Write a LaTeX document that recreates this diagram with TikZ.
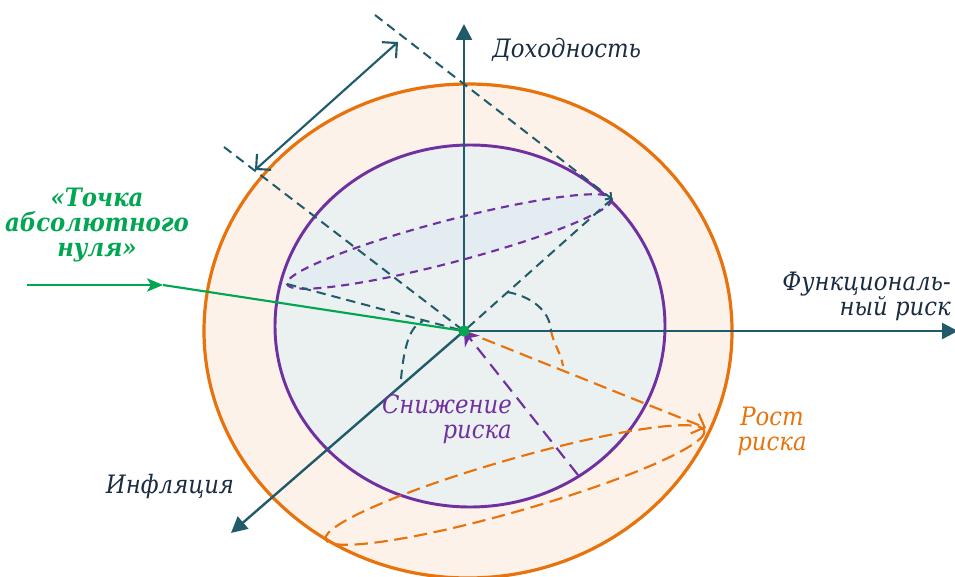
\documentclass[tikz,border=0pt]{standalone}
\usepackage{fontspec}
\setmainfont{DejaVu Serif Condensed}
\usepackage{xcolor}
\usetikzlibrary{arrows.meta}

\definecolor{axisteal}{HTML}{215A6A}
\definecolor{riskorange}{HTML}{E8720C}
\definecolor{riskpurple}{HTML}{7030A0}
\definecolor{zerogreen}{HTML}{00A651}
\definecolor{labelnavy}{HTML}{1A2B42}
\definecolor{outerfill}{HTML}{FDF2EA}
\definecolor{innerfill}{HTML}{EBF0F0}
\definecolor{planefill}{HTML}{E2ECF1}

\begin{document}
\begin{tikzpicture}[x=0.75pt, y=-0.75pt,
  axis/.style={draw=axisteal, line width=1.8pt, -{Triangle[length=12pt, width=12pt]}},
  guide/.style={draw=axisteal, line width=1.5pt, dash pattern=on 7pt off 4.5pt},
  planedash/.style={draw=riskpurple, line width=1.6pt, dash pattern=on 6pt off 4.5pt},
  orangedash/.style={draw=riskorange, line width=1.6pt, dash pattern=on 10pt off 5pt},
  openarrow/.style={-{Straight Barb[length=8pt, width=16pt]}},
  axislabel/.style={font=\itshape\fontsize{19}{18.75}\selectfont, text=labelnavy, inner sep=0pt, align=center},
  ]
  \useasboundingbox (0,0) rectangle (955,577);

  % points
  \coordinate (origin) at (464,331);
  \coordinate (ytip) at (464,24);
  \coordinate (xtip) at (958,331);
  \coordinate (ztip) at (231,533);
  \coordinate (greenstart) at (27,285);
  \coordinate (greenmid) at (163,285);
  \coordinate (planeleft) at (287,284);
  \coordinate (planeright) at (612,199);
  \coordinate (planecentre) at (449.5,241.5);
  \coordinate (guidetop) at (375,15);
  \coordinate (guideleft) at (224,147);
  \coordinate (spanlow) at (255,170);
  \coordinate (spanhigh) at (398,42);
  \coordinate (upend) at (706,428);
  \coordinate (downend) at (578,475);
  \coordinate (ringcentre) at (515,485);

  % spheres
  \path[draw=riskorange, fill=outerfill, line width=2.4pt] (468,331) ellipse [x radius=264, y radius=247];
  \path[draw=riskpurple, fill=innerfill, line width=2.2pt] (470,326) ellipse [x radius=195, y radius=181];

  % dashed ellipses
  \path[planedash, fill=planefill, rotate around={14.7:(planecentre)}] (planecentre) ellipse [x radius=168, y radius=21];
  \draw[orangedash, rotate around={16:(ringcentre)}] (ringcentre) ellipse [x radius=197, y radius=26];

  % guides
  \draw[guide, -{Straight Barb[length=3pt, width=7pt]}] (guidetop) -- (planeright);
  \draw[guide] (guideleft) -- (origin);
  \draw[guide] (planeleft) -- (origin);
  \draw[guide] (planeright) -- (origin);
  \draw[axisteal, line width=1.6pt, {Straight Barb[length=8pt, width=16pt]}-{Straight Barb[length=8pt, width=16pt]}] (spanlow) -- (spanhigh);

  % angle marks
  \draw[guide] (401,379) .. controls (404,346) and (410,326) .. (423,321);
  \draw[guide] (507,292) .. controls (530,296) and (550,310) .. (551,331);
  \draw[orangedash, dash pattern=on 7pt off 4.5pt] (551,331) .. controls (554,345) and (561,353) .. (563,366);

  % axes
  \draw[axis] (origin) -- (ytip);
  \draw[axis] (origin) -- (xtip);
  \draw[axis] (origin) -- (ztip);

  % risk arrows
  \draw[orangedash, openarrow] (origin) -- (upend);
  \draw[draw=riskpurple, line width=1.6pt, dash pattern=on 10pt off 6pt, -{Stealth[length=10pt, width=14pt]}] (downend) -- (origin);

  % zero point
  \draw[zerogreen, line width=1.6pt, -{Stealth[length=12pt, width=10pt, inset=3pt]}] (greenstart) -- (greenmid);
  \draw[zerogreen, line width=1.6pt] (greenmid) -- (origin);
  \node (zerodot) [circle, fill=zerogreen, inner sep=0pt, minimum size=8.5pt] at (origin) {};

  % labels
  \node (yieldlbl) [axislabel, anchor=west] at (492,50) {Доходность};
  \node (funclbl) [axislabel, align=right, anchor=east] at (951,296) {Функциональ-\\ный риск};
  \node (inflbl) [axislabel] at (170,487) {Инфляция};
  \node (zerolbl) [axislabel, font=\bfseries\itshape\fontsize{19}{18.75}\selectfont, text=zerogreen] at (97,225) {«Точка\\абсолютного\\нуля»};
  \node (downlbl) [axislabel, text=riskpurple, align=right, anchor=east] at (512,419) {Снижение\\риска};
  \node (uplbl) [axislabel, text=riskorange] at (772,431) {Рост\\риска};
\end{tikzpicture}
\end{document}
